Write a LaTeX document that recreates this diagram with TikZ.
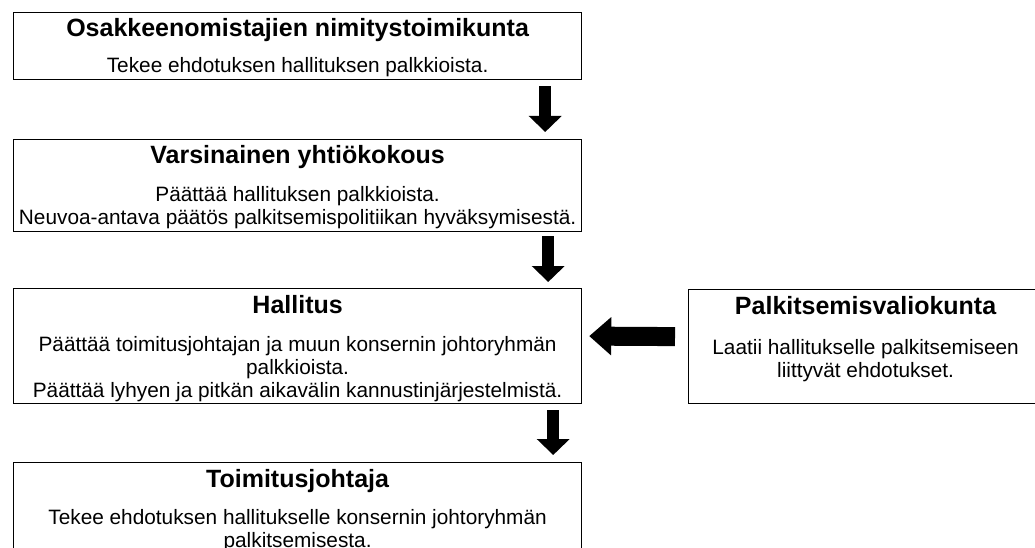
\documentclass[tikz,border=0pt]{standalone}
\usepackage{fontspec}
\setmainfont{Liberation Sans}
\usetikzlibrary{arrows.meta,positioning}

\tikzset{
  box/.style={draw=black, line width=1.2pt, minimum width=568pt,
              inner sep=0pt, anchor=north west},
  boxtitle/.style={font=\fontsize{25}{30}\selectfont\bfseries,
                   inner sep=0pt, anchor=base},
  boxtext/.style={font=\fontsize{20.8}{23}\selectfont, align=center,
                  inner sep=0pt, anchor=base},
  blockarrow/.style={line width=12pt, line join=round,
                     -{Triangle[width=32pt,length=16pt]}},
}

\begin{document}
\begin{tikzpicture}[x=1pt,y=-1pt]
  \useasboundingbox (0,0) rectangle (1035,548);
  \clip (0,0) rectangle (1035,548);

  % boxes
  \node[box, minimum height=67pt]  (nim) at (13,12)  {};
  \node[box, minimum height=92pt]  (yk)  at (13,139) {};
  \node[box, minimum height=115pt] (hal) at (13,288) {};
  \node[box, minimum height=115pt] (tj)  at (13,462) {};
  \node[box, minimum width=354pt, minimum height=114pt] (pv) at (688,289) {};

  % texts (multi-line texts sit on their last line)
  \node[boxtitle] (nimT) at ([yshift=-25pt]nim.north) {Osakkeenomistajien nimitystoimikunta};
  \node[boxtext]  (nimB) at ([yshift=-61pt]nim.north) {Tekee ehdotuksen hallituksen palkkioista.};

  \node[boxtitle] (ykT) at ([yshift=-25pt]yk.north) {Varsinainen yhtiökokous};
  \node[boxtext]  (ykB) at ([yshift=-85pt]yk.north)
    {Päättää hallituksen palkkioista.\\Neuvoa-antava päätös palkitsemispolitiikan hyväksymisestä.};

  \node[boxtitle] (halT) at ([yshift=-25pt]hal.north) {Hallitus};
  \node[boxtext]  (halB) at ([yshift=-109pt]hal.north)
    {Päättää toimitusjohtajan ja muun konsernin johtoryhmän\\palkkioista.\\Päättää lyhyen ja pitkän aikavälin kannustinjärjestelmistä.};

  \node[boxtitle] (tjT) at ([yshift=-25pt]tj.north) {Toimitusjohtaja};
  \node[boxtext]  (tjB) at ([yshift=-85pt]tj.north)
    {Tekee ehdotuksen hallitukselle konsernin johtoryhmän\\palkitsemisesta.};

  \node[boxtitle] (pvT) at ([yshift=-25pt]pv.north) {Palkitsemisvaliokunta};
  \node[boxtext]  (pvB) at ([yshift=-88pt]pv.north)
    {Laatii hallitukselle palkitsemiseen\\liittyvät ehdotukset.};

  % arrows
  \draw[blockarrow] ([xshift=-37pt,yshift=-6pt]nim.south east) -- ([xshift=-37pt,yshift=7pt]yk.north east);
  \draw[blockarrow] ([xshift=-34pt,yshift=-4pt]yk.south east) -- ([xshift=-34pt,yshift=6pt]hal.north east);
  \draw[blockarrow] ([xshift=-29pt,yshift=-6pt]hal.south east) -- ([xshift=-29pt,yshift=7pt]tj.north east);
  \draw[blockarrow, line width=19pt, -{Triangle[width=37pt,length=22pt]}]
    ([xshift=-13pt,yshift=10pt]pv.west) -- ([xshift=7pt,yshift=10pt]hal.east);
\end{tikzpicture}
\end{document}
